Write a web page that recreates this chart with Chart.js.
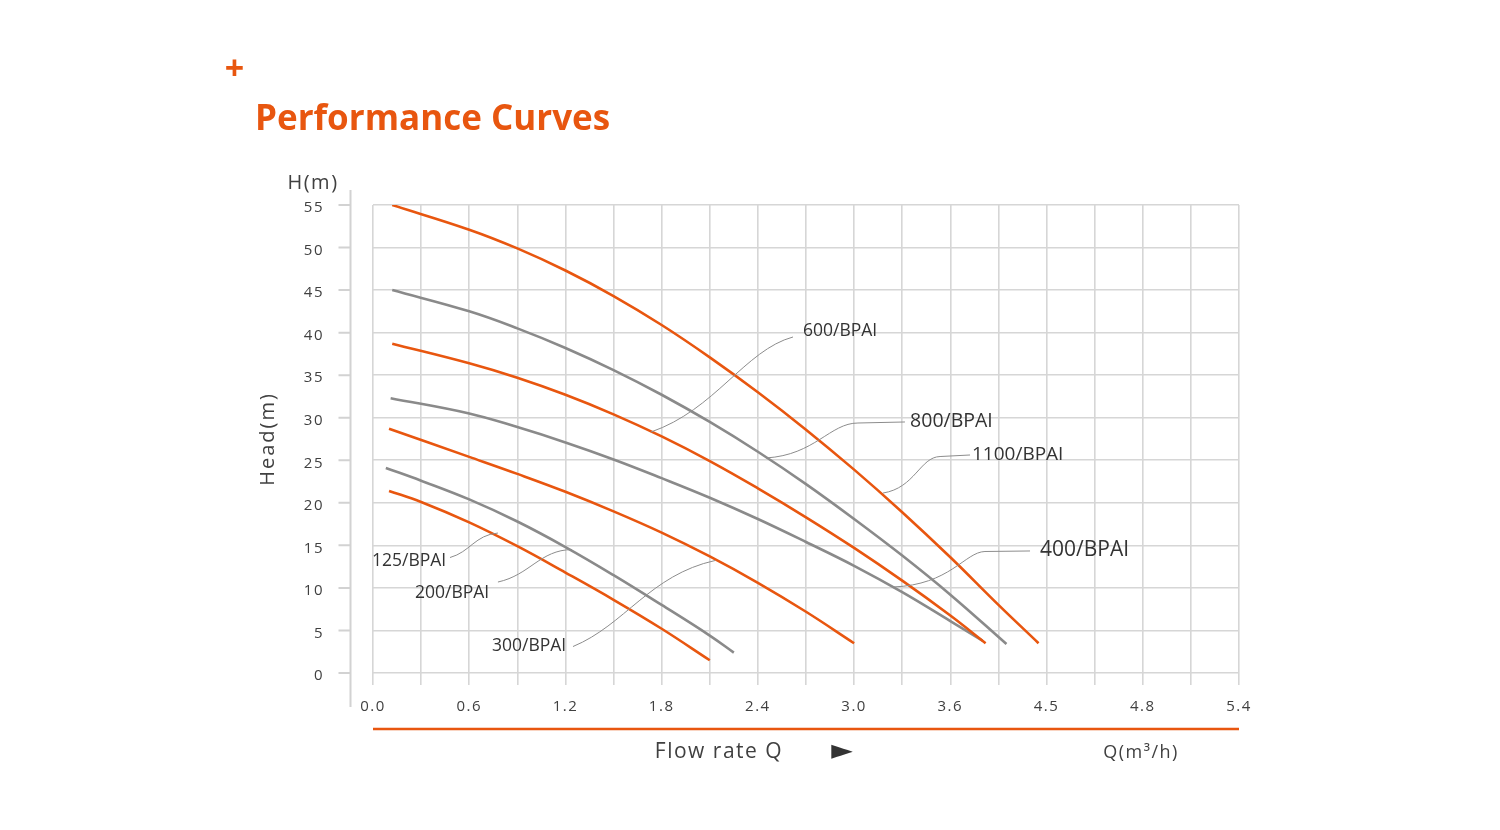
<!DOCTYPE html>
<html>
<head>
<meta charset="utf-8">
<title>Performance Curves</title>
<script src="https://cdn.jsdelivr.net/npm/chart.js@4"></script>
<style>
  html, body { margin: 0; padding: 0; background: #fff; }
  #wrap { position: relative; width: 1500px; height: 830px; }
</style>
</head>
<body>
<div id="wrap"><canvas id="myChart"></canvas></div>
<script>
'use strict';

/* DATA */

// flow Q (m3/h) and head H (m) per pump model
const q1100 = [0.12, 0.6, 0.9, 1.2, 1.5, 1.8, 2.1, 2.4, 2.7, 3.0, 3.3, 3.6, 3.9, 4.15];
const h1100 = [55.0, 52.1, 49.9, 47.3, 44.3, 40.9, 37.1, 33.0, 28.6, 23.9, 18.9, 13.6, 8.0, 3.5];

const q800 = [0.12, 0.6, 0.9, 1.2, 1.5, 1.8, 2.1, 2.4, 2.7, 3.0, 3.3, 3.6, 3.95];
const h800 = [45.0, 42.5, 40.5, 38.2, 35.6, 32.7, 29.5, 26.0, 22.2, 18.1, 13.8, 9.2, 3.4];

const q600 = [0.12, 0.6, 0.9, 1.2, 1.5, 1.8, 2.1, 2.4, 2.7, 3.0, 3.3, 3.6, 3.82];
const h600 = [38.7, 36.4, 34.7, 32.7, 30.4, 27.8, 24.9, 21.7, 18.3, 14.7, 10.85, 6.75, 3.5];

const q400 = [0.11, 0.6, 0.9, 1.2, 1.5, 1.8, 2.1, 2.4, 2.7, 3.0, 3.3, 3.6, 3.8];
const h400 = [32.3, 30.5, 28.9, 27.1, 25.1, 22.9, 20.6, 18.1, 15.4, 12.6, 9.5, 6.1, 3.8];

const q300 = [0.1, 0.6, 0.9, 1.2, 1.5, 1.8, 2.1, 2.4, 2.7, 3.0];
const h300 = [28.7, 25.4, 23.4, 21.3, 19.0, 16.5, 13.7, 10.6, 7.2, 3.5];

const q200 = [0.08, 0.3, 0.6, 0.9, 1.2, 1.5, 1.8, 2.1, 2.25];
const h200 = [24.1, 22.6, 20.4, 17.8, 14.8, 11.5, 8.0, 4.4, 2.4];

const q125 = [0.1, 0.3, 0.6, 0.9, 1.2, 1.5, 1.8, 2.1];
const h125 = [21.4, 20.1, 17.7, 14.9, 11.8, 8.6, 5.2, 1.5];

const xTickLabels = ['0.0', '0.6', '1.2', '1.8', '2.4', '3.0', '3.6', '4.5', '4.8', '5.4'];

const ORANGE = '#e8560f';
const GREY = '#8a8a8a';
const TEXT = '#404040';
const FONT = '"Open Sans", "Noto Sans", "DejaVu Sans", sans-serif';

function pts(qs, hs) {
  return qs.map(function(q, i) { return { x: q, y: hs[i] }; });
}

function curve(label, qs, hs, color) {
  return {
    label: label,
    data: pts(qs, hs),
    borderColor: color,
    borderWidth: 2.6,
    pointRadius: 0,
    fill: false,
    tension: 0.4,
  };
}

/* CALLOUTS */

// label text + leader line, all in data units (Q, H)
// path: start, straight to, bezier cp1, cp2, end (on the curve)
const callouts = [
  { text: '600/BPAI', size: 17.5, at: [2.681, 40.19],
    path: [[2.619, 39.49], [2.619, 39.49], [2.320, 37.96], [2.133, 30.91], [1.733, 28.32]] },
  { text: '800/BPAI', size: 19.5, at: [3.349, 29.62],
    path: [[3.317, 29.50], [3.024, 29.38], [2.850, 29.38], [2.756, 25.62], [2.451, 25.27]] },
  { text: '1100/BPAI', size: 19, at: [3.735, 25.62],
    path: [[3.723, 25.62], [3.536, 25.44], [3.411, 25.38], [3.380, 21.74], [3.180, 21.15]] },
  { text: '400/BPAI', size: 21, at: [4.159, 14.46],
    path: [[4.097, 14.34], [3.816, 14.28], [3.691, 14.22], [3.598, 10.34], [3.243, 10.11]] },
  { text: '125/BPAI', size: 17.5, at: [-0.006, 13.16],
    path: [[0.480, 13.57], [0.480, 13.57], [0.605, 14.22], [0.636, 16.22], [0.779, 16.45]] },
  { text: '200/BPAI', size: 17.5, at: [0.262, 9.40],
    path: [[0.779, 10.69], [0.779, 10.69], [0.979, 11.52], [1.041, 14.46], [1.241, 14.51]] },
  { text: '300/BPAI', size: 17.5, at: [0.742, 3.17],
    path: [[1.247, 3.11], [1.247, 3.11], [1.571, 5.64], [1.727, 11.52], [2.133, 13.22]] },
];

/* DECORATION PLUGIN */

const decor = {
  id: 'decor',
  beforeDraw: function(chart) {
    chart.ctx.letterSpacing = '1.5px';
  },
  afterDatasetsDraw: function(chart) {
    const ctx = chart.ctx;
    const xs = chart.scales.x;
    const ys = chart.scales.y;
    const px = function(p) { return [xs.getPixelForValue(p[0]), ys.getPixelForValue(p[1])]; };

    ctx.save();
    ctx.strokeStyle = '#8c8c8c';
    ctx.lineWidth = 1;
    ctx.fillStyle = '#333';
    ctx.letterSpacing = '0px';
    ctx.textBaseline = 'middle';
    ctx.textAlign = 'left';
    callouts.forEach(function(c) {
      const p = c.path.map(px);
      ctx.beginPath();
      ctx.moveTo(p[0][0], p[0][1]);
      ctx.lineTo(p[1][0], p[1][1]);
      ctx.bezierCurveTo(p[2][0], p[2][1], p[3][0], p[3][1], p[4][0], p[4][1]);
      ctx.stroke();
      const t = px(c.at);
      ctx.font = c.size + 'px ' + FONT;
      ctx.fillText(c.text, t[0], t[1]);
    });
    ctx.restore();
  },
  afterDraw: function(chart) {
    const ctx = chart.ctx;
    const area = chart.chartArea;
    const ys = chart.scales.y;

    ctx.save();

    // detached y axis line with ticks
    const ax = area.left - 22.5;
    ctx.strokeStyle = '#d2d2d2';
    ctx.lineWidth = 2;
    ctx.beginPath();
    ctx.moveTo(ax, area.top - 15);
    ctx.lineTo(ax, area.bottom + 34);
    ys.ticks.forEach(function(t) {
      const y = ys.getPixelForValue(t.value);
      ctx.moveTo(ax - 12, y);
      ctx.lineTo(ax, y);
    });
    ctx.stroke();

    // orange bar under the x axis
    ctx.strokeStyle = ORANGE;
    ctx.lineWidth = 2.5;
    ctx.beginPath();
    ctx.moveTo(area.left, area.bottom + 56);
    ctx.lineTo(area.right, area.bottom + 56);
    ctx.stroke();

    ctx.fillStyle = TEXT;
    ctx.textBaseline = 'middle';
    ctx.textAlign = 'center';

    ctx.letterSpacing = '1.5px';
    ctx.font = '21px ' + FONT;
    ctx.fillText('Flow rate Q', area.left + 346, area.bottom + 79);

    ctx.letterSpacing = '0px';
    ctx.fillStyle = '#333';
    ctx.font = '28px "DejaVu Sans", sans-serif';
    ctx.fillText('\u25BA', area.left + 469, area.bottom + 79);

    ctx.fillStyle = TEXT;
    ctx.letterSpacing = '1.5px';
    ctx.font = '18px ' + FONT;
    ctx.fillText('Q(m\u00B3/h)', area.left + 768, area.bottom + 80);

    ctx.font = '20px ' + FONT;
    ctx.fillText('H(m)', area.left - 60, area.top - 22);

    ctx.save();
    ctx.translate(area.left - 105, (area.top + area.bottom) / 2);
    ctx.rotate(-Math.PI / 2);
    ctx.letterSpacing = '2px';
    ctx.fillText('Head(m)', 0, 0);
    ctx.restore();

    // heading
    ctx.fillStyle = ORANGE;
    ctx.textAlign = 'left';
    ctx.textBaseline = 'alphabetic';
    ctx.letterSpacing = '0px';
    ctx.font = 'bold 35px ' + FONT;
    ctx.fillText('Performance Curves', 255, 130);

    ctx.font = 'bold 34px ' + FONT;
    ctx.textAlign = 'center';
    ctx.textBaseline = 'middle';
    ctx.fillText('+', 234.5, 70);

    ctx.restore();
  }
};

/* CHART */

const ctx = document.getElementById('myChart').getContext('2d');
const chart = new Chart(ctx, {
  type: 'line',
  data: {
    datasets: [
      curve('1100/BPAI', q1100, h1100, ORANGE),
      curve('800/BPAI', q800, h800, GREY),
      curve('600/BPAI', q600, h600, ORANGE),
      curve('400/BPAI', q400, h400, GREY),
      curve('300/BPAI', q300, h300, ORANGE),
      curve('200/BPAI', q200, h200, GREY),
      curve('125/BPAI', q125, h125, ORANGE),
    ]
  },
  options: {
    responsive: true,
    maintainAspectRatio: false,
    animation: false,
    layout: { padding: { left: 0, top: 205, right: 261, bottom: 0 } },
    plugins: {
      legend: { display: false },
      tooltip: { enabled: false },
    },
    scales: {
      x: {
        type: 'linear',
        min: 0,
        max: 5.4,
        border: { display: false },
        grid: { color: '#d6d6d6', lineWidth: 1.6, tickLength: 12, tickColor: '#d6d6d6' },
        ticks: {
          stepSize: 0.3,
          autoSkip: false,
          maxRotation: 0,
          padding: 13,
          color: TEXT,
          font: { family: FONT, size: 15 },
          callback: function(value, index) {
            return index % 2 === 0 ? xTickLabels[index / 2] : '';
          }
        },
        afterFit: function(scale) { scale.height = 157; }
      },
      y: {
        min: 0,
        max: 55,
        border: { display: false },
        grid: { color: '#d6d6d6', lineWidth: 1.6, drawTicks: false },
        ticks: {
          stepSize: 5,
          padding: 49,
          labelOffset: 3,
          color: TEXT,
          font: { family: FONT, size: 15 },
        },
        afterFit: function(scale) { scale.width = 373; }
      }
    }
  },
  plugins: [decor]
});
</script>
</body>
</html>
